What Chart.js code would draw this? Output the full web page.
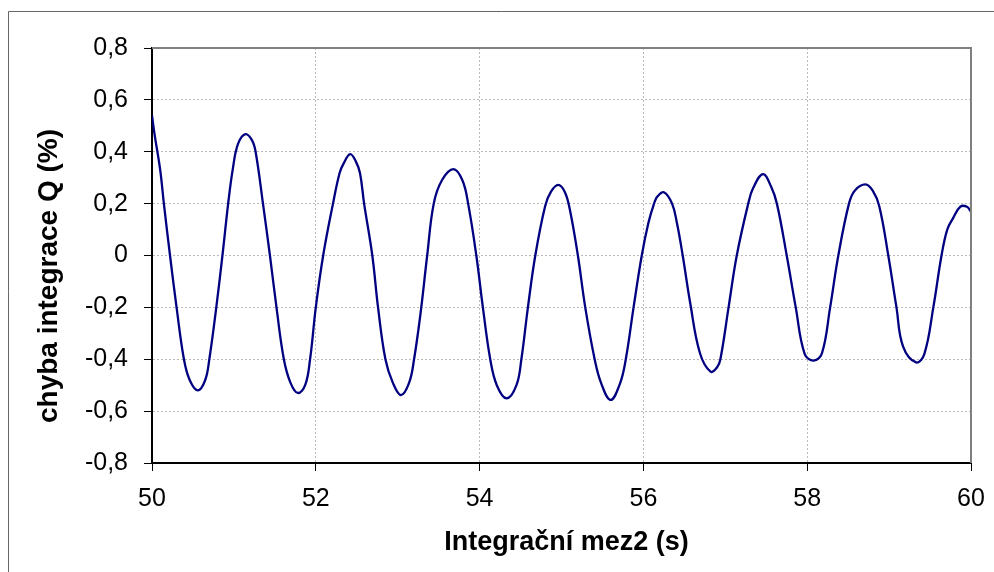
<!DOCTYPE html>
<html>
<head>
<meta charset="utf-8">
<script src="https://cdn.jsdelivr.net/npm/chart.js@4/dist/chart.umd.min.js"></script>
<style>
  html, body { margin: 0; padding: 0; background: #fff; overflow: hidden; }
  #wrap { width: 994px; height: 572px; position: relative; }
</style>
</head>
<body>
<div id="wrap"><canvas id="errChart" width="994" height="572"></canvas></div>
<script>
// time (s)
const timeS = [
  50.00, 50.03, 50.10, 50.145, 50.22, 50.30, 50.39, 50.46, 50.56, 50.65,
  50.70, 50.785, 50.86, 50.93, 50.985, 51.05, 51.14, 51.22, 51.265, 51.355,
  51.44, 51.52, 51.61, 51.69, 51.78, 51.87, 51.93, 52.00, 52.09, 52.21,
  52.29, 52.34, 52.42, 52.49, 52.54, 52.59, 52.69, 52.76, 52.85, 52.94,
  53.04, 53.14, 53.20, 53.28, 53.36, 53.44, 53.54, 53.68, 53.79, 53.86,
  53.96, 54.04, 54.13, 54.21, 54.33, 54.45, 54.51, 54.59, 54.68, 54.80,
  54.87, 54.96, 55.04, 55.10, 55.20, 55.29, 55.405, 55.485,
  55.60, 55.715, 55.785, 55.88, 55.98, 56.06, 56.13, 56.17, 56.25, 56.35,
  56.41, 56.48, 56.57, 56.69, 56.82, 56.90, 56.94, 57.04, 57.14, 57.28,
  57.34, 57.46, 57.56, 57.63, 57.75, 57.86, 57.97, 58.08, 58.18, 58.28,
  58.38, 58.51, 58.58, 58.71, 58.80, 58.88, 58.99, 59.09, 59.17, 59.33,
  59.43, 59.54, 59.64, 59.71, 59.78, 59.87, 59.95, 60.00
];
// integration error Q (%)
const errorPct = [
  0.54, 0.47, 0.33, 0.20, 0.00, -0.20, -0.40, -0.48, -0.52, -0.48,
  -0.40, -0.20, 0.00, 0.20, 0.33, 0.43, 0.468, 0.445, 0.40, 0.20,
  0.00, -0.20, -0.40, -0.49, -0.53, -0.50, -0.40, -0.20, 0.00, 0.20,
  0.317, 0.355, 0.391, 0.362, 0.317, 0.20, 0.00, -0.20, -0.40, -0.49,
  -0.538, -0.49, -0.40, -0.22, 0.00, 0.20, 0.29, 0.333, 0.29, 0.20,
  0.00, -0.20, -0.40, -0.50, -0.551, -0.50, -0.40, -0.20, 0.00, 0.19,
  0.245, 0.272, 0.245, 0.18, 0.00, -0.20, -0.40, -0.493,
  -0.557, -0.493, -0.40, -0.20, 0.00, 0.124, 0.20, 0.227, 0.244, 0.20,
  0.124, 0.00, -0.18, -0.376, -0.448, -0.431, -0.40, -0.20, 0.00, 0.20,
  0.26, 0.314, 0.265, 0.20, 0.00, -0.20, -0.38, -0.405, -0.377, -0.20,
  0.00, 0.20, 0.25, 0.274, 0.25, 0.19, 0.00, -0.20, -0.35, -0.412,
  -0.38, -0.20, 0.00, 0.10, 0.143, 0.188, 0.188, 0.169
];
const xTicks = [50, 52, 54, 56, 58, 60];
const yTicks = [-0.8, -0.6, -0.4, -0.2, 0, 0.2, 0.4, 0.6, 0.8];
const xTitle = 'Integrační mez2 (s)';
const yTitle = 'chyba integrace Q (%)';

const FONT = '"Liberation Sans", Arial, sans-serif';

function fmtComma(v) {
  if (Math.abs(v) < 1e-9) return '0';
  return v.toFixed(1).replace('.', ',');
}

// outer frame, grey top/right edge of the plot area, axis titles
const framePlugin = {
  id: 'frame',
  beforeDraw(chart) {
    const c = chart.ctx;
    c.save();
    c.strokeStyle = '#666';
    c.lineWidth = 1;
    c.beginPath();
    c.moveTo(8.5, 572);
    c.lineTo(8.5, 11.5);
    c.lineTo(994, 11.5);
    c.stroke();
    c.restore();
  },
  afterDatasetsDraw(chart) {
    const a = chart.chartArea;
    const c = chart.ctx;
    c.save();
    c.strokeStyle = '#808080';
    c.lineWidth = 2;
    c.beginPath();
    c.moveTo(a.left, a.top);
    c.lineTo(a.right, a.top);
    c.lineTo(a.right, a.bottom);
    c.stroke();
    c.restore();
  },
  afterDraw(chart) {
    const c = chart.ctx;
    c.save();
    c.fillStyle = '#000';
    c.textAlign = 'center';
    c.textBaseline = 'middle';
    c.font = 'bold 27px ' + FONT;
    c.fillText(xTitle, 566.5, 542.5);
    c.translate(49, 276);
    c.rotate(-Math.PI / 2);
    c.font = 'bold 28px ' + FONT;
    c.fillText(yTitle, 0, 0);
    c.restore();
  }
};

new Chart(document.getElementById('errChart'), {
  type: 'line',
  data: {
    datasets: [{
      data: timeS.map((t, i) => ({ x: t, y: errorPct[i] })),
      borderColor: '#000080',
      borderWidth: 2.3,
      pointRadius: 0,
      fill: false,
      tension: 0.4
    }]
  },
  options: {
    responsive: false,
    animation: false,
    layout: { padding: { left: 0, top: 48, right: 23, bottom: 0 } },
    plugins: { legend: { display: false }, tooltip: { enabled: false } },
    scales: {
      x: {
        type: 'linear',
        min: 50,
        max: 60,
        afterBuildTicks: s => { s.ticks = xTicks.map(v => ({ value: v })); },
        afterFit: s => { s.height = 109; s.paddingLeft = 0; s.paddingRight = 0; },
        grid: {
          color: '#b8b8b8',
          lineWidth: 1,
          tickColor: '#000',
          tickLength: 8,
          tickBorderDash: [],
          tickWidth: 1
        },
        border: { color: '#000', width: 2, dash: [2, 2] },
        ticks: {
          color: '#000',
          padding: 13,
          maxRotation: 0,
          font: { family: FONT, size: 25 },
          callback: v => String(v)
        },
        title: { display: false }
      },
      y: {
        min: -0.8,
        max: 0.8,
        afterBuildTicks: s => { s.ticks = yTicks.map(v => ({ value: v })); },
        afterFit: s => { s.width = 152; s.paddingTop = 0; s.paddingBottom = 0; },
        grid: {
          color: '#b8b8b8',
          lineWidth: 1,
          tickColor: '#000',
          tickLength: 8,
          tickBorderDash: [],
          tickWidth: 1
        },
        border: { color: '#000', width: 2, dash: [2, 2] },
        ticks: {
          color: '#000',
          padding: 16,
          font: { family: FONT, size: 25 },
          callback: v => fmtComma(v)
        },
        title: { display: false }
      }
    }
  },
  plugins: [framePlugin]
});
</script>
</body>
</html>
